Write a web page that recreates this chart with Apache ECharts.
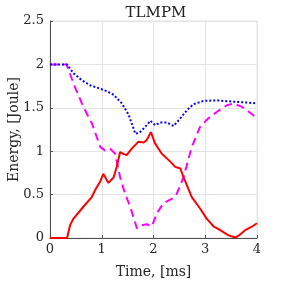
<!DOCTYPE html>
<html><head><meta charset="utf-8">
<script src="https://cdn.jsdelivr.net/npm/echarts@6/dist/echarts.min.js"></script>
<style>html,body{margin:0;padding:0;background:#fff}#c{width:284px;height:284px}</style>
</head><body><div id="c"></div>
<script>
const title = 'TLMPM';
const xLabel = 'Time, [ms]';
const yLabel = 'Energy, [Joule]';
const xTicks = [0, 1, 2, 3, 4];
const yTicks = [0, 0.5, 1, 1.5, 2, 2.5];

const redT = [0, 0.33, 0.387, 0.45, 0.645, 0.806, 0.87, 0.97, 1.03, 1.13, 1.23, 1.29, 1.355, 1.42, 1.48, 1.58, 1.71, 1.81, 1.87, 1.95, 2.03, 2.16, 2.29, 2.42, 2.52, 2.58, 2.74, 2.9, 3.03, 3.16, 3.29, 3.45, 3.58, 3.65, 3.77, 3.9, 4.0];
const redE = [0, 0, 0.146, 0.22, 0.36, 0.47, 0.55, 0.65, 0.74, 0.635, 0.70, 0.82, 0.99, 0.97, 0.955, 1.03, 1.11, 1.10, 1.13, 1.22, 1.09, 0.97, 0.90, 0.82, 0.80, 0.70, 0.47, 0.34, 0.22, 0.135, 0.09, 0.03, 0.005, 0.03, 0.09, 0.13, 0.17];

const magT = [0, 0.32, 0.48, 0.645, 0.81, 0.97, 1.06, 1.16, 1.26, 1.355, 1.45, 1.55, 1.68, 1.77, 1.87, 1.97, 2.06, 2.19, 2.35, 2.45, 2.58, 2.74, 2.9, 3.06, 3.23, 3.42, 3.55, 3.71, 3.84, 4.0];
const magE = [2.0, 2.0, 1.74, 1.51, 1.32, 1.05, 1.01, 1.03, 0.97, 0.70, 0.51, 0.36, 0.11, 0.146, 0.158, 0.135, 0.28, 0.40, 0.45, 0.51, 0.70, 1.05, 1.28, 1.38, 1.455, 1.53, 1.55, 1.51, 1.455, 1.38];

const bluT = [0, 0.33, 0.355, 0.45, 0.61, 0.77, 0.97, 1.1, 1.23, 1.39, 1.52, 1.65, 1.74, 1.84, 1.94, 2.03, 2.13, 2.26, 2.39, 2.52, 2.65, 2.77, 2.97, 3.23, 3.55, 3.81, 4.0];
const bluE = [2.0, 2.0, 1.99, 1.90, 1.82, 1.76, 1.72, 1.69, 1.65, 1.55, 1.42, 1.20, 1.22, 1.28, 1.35, 1.30, 1.33, 1.33, 1.29, 1.38, 1.475, 1.54, 1.58, 1.585, 1.57, 1.56, 1.55];

const zip = (a, b) => a.map((v, i) => [v, b[i]]);
const font = 'DejaVu Serif';
const chart = echarts.init(document.getElementById('c'), null, {renderer: 'canvas'});
chart.setOption({
  animation: false,
  backgroundColor: '#fff',
  title: {text: title, left: 151, top: 1, textAlign: 'center',
    textStyle: {fontFamily: font, fontSize: 15, fontWeight: 'normal', color: '#222'}},
  grid: {left: 50, right: 27, top: 21, bottom: 46, show: true, borderColor: '#e3e3e3', borderWidth: 1,
    containLabel: false, outerBoundsMode: 'none'},
  xAxis: [{
    type: 'value', min: 0, max: 4, interval: 1,
    name: xLabel, nameLocation: 'middle', nameGap: 27, nameMoveOverlap: false,
    nameTextStyle: {fontFamily: font, fontSize: 14, color: '#262626'},
    axisLine: {lineStyle: {color: '#4d4d4d', width: 1}},
    axisTick: {inside: true, length: 3, lineStyle: {color: '#4d4d4d'}},
    axisLabel: {fontFamily: font, fontSize: 13, color: '#262626', margin: 5, formatter: v => xTicks.includes(v) ? String(v) : ''},
    splitLine: {show: true, lineStyle: {color: '#e3e3e3', width: 1}}
  }],
  yAxis: [{
    type: 'value', min: 0, max: 2.5, interval: 0.5,
    name: yLabel, nameLocation: 'middle', nameGap: 29, nameMoveOverlap: false,
    nameTextStyle: {fontFamily: font, fontSize: 14, color: '#262626'},
    axisLine: {show: true, lineStyle: {color: '#4d4d4d', width: 1}},
    axisTick: {show: true, inside: true, length: 3, lineStyle: {color: '#4d4d4d'}},
    axisLabel: {fontFamily: font, fontSize: 13, color: '#262626', margin: 6, formatter: v => yTicks.includes(v) ? String(v) : ''},
    splitLine: {show: true, lineStyle: {color: '#e3e3e3', width: 1}}
  }],
  series: [
    {type: 'line', data: zip(magT, magE), showSymbol: false, smooth: false,
      lineStyle: {color: '#ff00ff', width: 2, type: [8, 5]}},
    {type: 'line', data: zip(bluT, bluE), showSymbol: false,
      lineStyle: {color: '#0000ff', width: 2, type: [2, 2]}},
    {type: 'line', data: zip(redT, redE), showSymbol: false,
      lineStyle: {color: '#ff0000', width: 2}}
  ]
});
</script></body></html>
